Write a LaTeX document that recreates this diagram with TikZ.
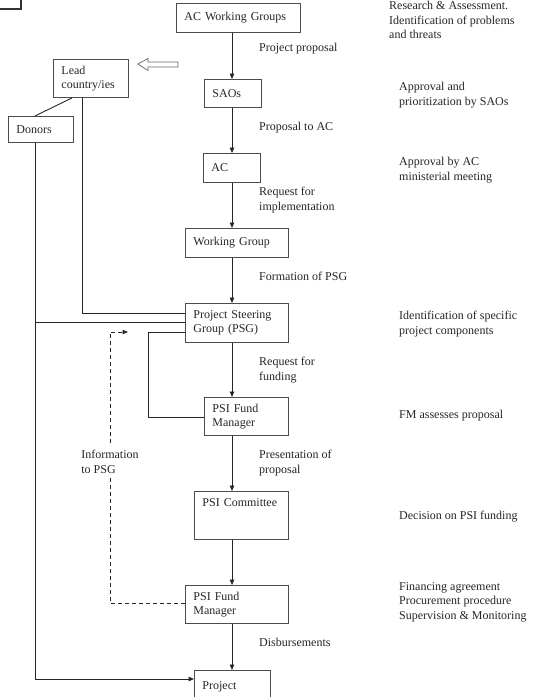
\documentclass[tikz,border=0pt]{standalone}
\usepackage{fontspec}
\setmainfont{Liberation Serif}
\usetikzlibrary{arrows.meta, calc}

\begin{document}
\begin{tikzpicture}[
  x=1pt, y=-1pt,
  font=\fontsize{12}{14.5}\selectfont,
  box/.style={draw=black!70, line width=0.9pt, anchor=north west, align=left,
              inner xsep=8pt, inner ysep=0pt, text=black!85},
  note/.style={anchor=north west, align=left, inner sep=0pt, text=black!85},
  link/.style={draw=black!85, line width=0.9pt},
  arr/.style={link, -{Triangle[length=5.5pt, width=4.5pt]}},
  info/.style={link, dash pattern=on 4pt off 3pt}
]
  \useasboundingbox (0,0) rectangle (533,697);
  \clip (0,0) rectangle (533,697);
  \fill[white] (0,0) rectangle (533,697);

  % corner of a cut-off box
  \draw[black!80, line width=1.5pt] (-10,-10) rectangle (21,9);

  % main column
  \node[box, text width=108pt, minimum height=29pt] (awg) at (176,3) {AC Working~Groups};
  \node[box, text width=41pt, minimum height=28pt] (sao) at (204,79) {SAOs};
  \node[box, text width=41pt, minimum height=29pt] (ac) at (203,153) {AC};
  \node[box, text width=87pt, minimum height=29pt] (wg) at (185,228) {Working~Group};
  \node[box, text width=87pt, minimum height=39pt] (psg) at (185,303) {Project Steering\\Group (PSG)};
  \node[box, text width=68pt, minimum height=38pt] (fm1) at (204,397) {PSI Fund\\Manager};
  \node[box, text width=78pt, minimum height=48pt, text depth=26pt] (psic) at (194,491) {PSI Committee};
  \node[box, text width=87pt, minimum height=38pt] (fm2) at (185,585) {PSI Fund\\Manager};
  \node[box, text width=60pt, minimum height=32pt] (proj) at (194,670) {Project};

  % left side
  \node[box, text width=59pt, minimum height=38pt] (lead) at (53,59) {Lead\\country/ies};
  \node[box, text width=49pt, minimum height=26pt] (donors) at (8,116) {Donors};

  % labels on the arrows
  \node[note] (lprop) at (259,43) {Project proposal};
  \node[note] (lac) at (259,122) {Proposal to AC};
  \node[note] (limpl) at (259,187) {Request for\\implementation};
  \node[note] (lform) at (259,272) {Formation of PSG};
  \node[note] (lfund) at (259,357) {Request for\\funding};
  \node[note] (lpres) at (259,450) {Presentation of\\proposal};
  \node[note] (ldisb) at (259,638) {Disbursements};

  % right column
  \node[note] (rres) at (389,1) {Research \& Assessment.\\Identification of problems\\and threats};
  \node[note] (rsao) at (399,82) {Approval and\\prioritization by SAOs};
  \node[note] (rac) at (399,157) {Approval by AC\\ministerial meeting};
  \node[note] (rpsg) at (399,311) {Identification of specific\\project components};
  \node[note] (rfm) at (399,410) {FM assesses proposal};
  \node[note] (rdec) at (399,511) {Decision on PSI funding};
  \node[note] (rfin) at (399,582) {Financing agreement\\Procurement procedure\\Supervision \& Monitoring};

  \node[note, anchor=north] (infolbl) at (110,450) {Information\\to PSG};

  % spine arrows
  \coordinate (spine) at (232,0);
  \foreach \a/\b in {awg/sao, sao/ac, ac/wg, wg/psg, psg/fm1, fm1/psic, psic/fm2, fm2/proj}
    \draw[arr] (\a.south -| spine) -- (\b.north -| spine);

  % hollow arrow towards lead country
  \draw[black!60, line width=0.7pt, fill=white] ($(lead.north east)+(9,5)$) -- ++(10,-5.5)
    -- ++(0,3.5) -- ++(30,0) -- ++(0,5) -- ++(-30,0) -- ++(0,3.5) -- cycle;

  % lead country and donors
  \draw[link] ($(lead.south west)+(19,0)$) -- ($(donors.north west)+(27,0)$);
  \draw[link] ($(lead.south west)+(29,0)$) |- ($(psg.north west)+(0,10)$);
  \coordinate (dbus) at ($(donors.south west)+(27,0)$);
  \coordinate (psgin) at ($(psg.north west)+(0,19)$);
  \draw[arr] (dbus) |- ($(proj.north west)+(0,9)$);
  \draw[link] (dbus |- psgin) -- (psgin);

  % PSG to fund manager
  \draw[link] ($(psg.north west)+(0,29)$) -- ++(-37,0) |- ($(fm1.north west)+(0,20)$);

  % information back to PSG
  \coordinate (infotip) at ($(psg.north west)+(-57,29)$);
  \draw[info] ($(fm2.north west)+(0,18)$) -| ($(infolbl.south)+(0,4)$);
  \draw[info, -{Triangle[length=5.5pt, width=4.5pt]}] ($(infolbl.north)+(0,-7)$) |- (infotip);
\end{tikzpicture}
\end{document}
